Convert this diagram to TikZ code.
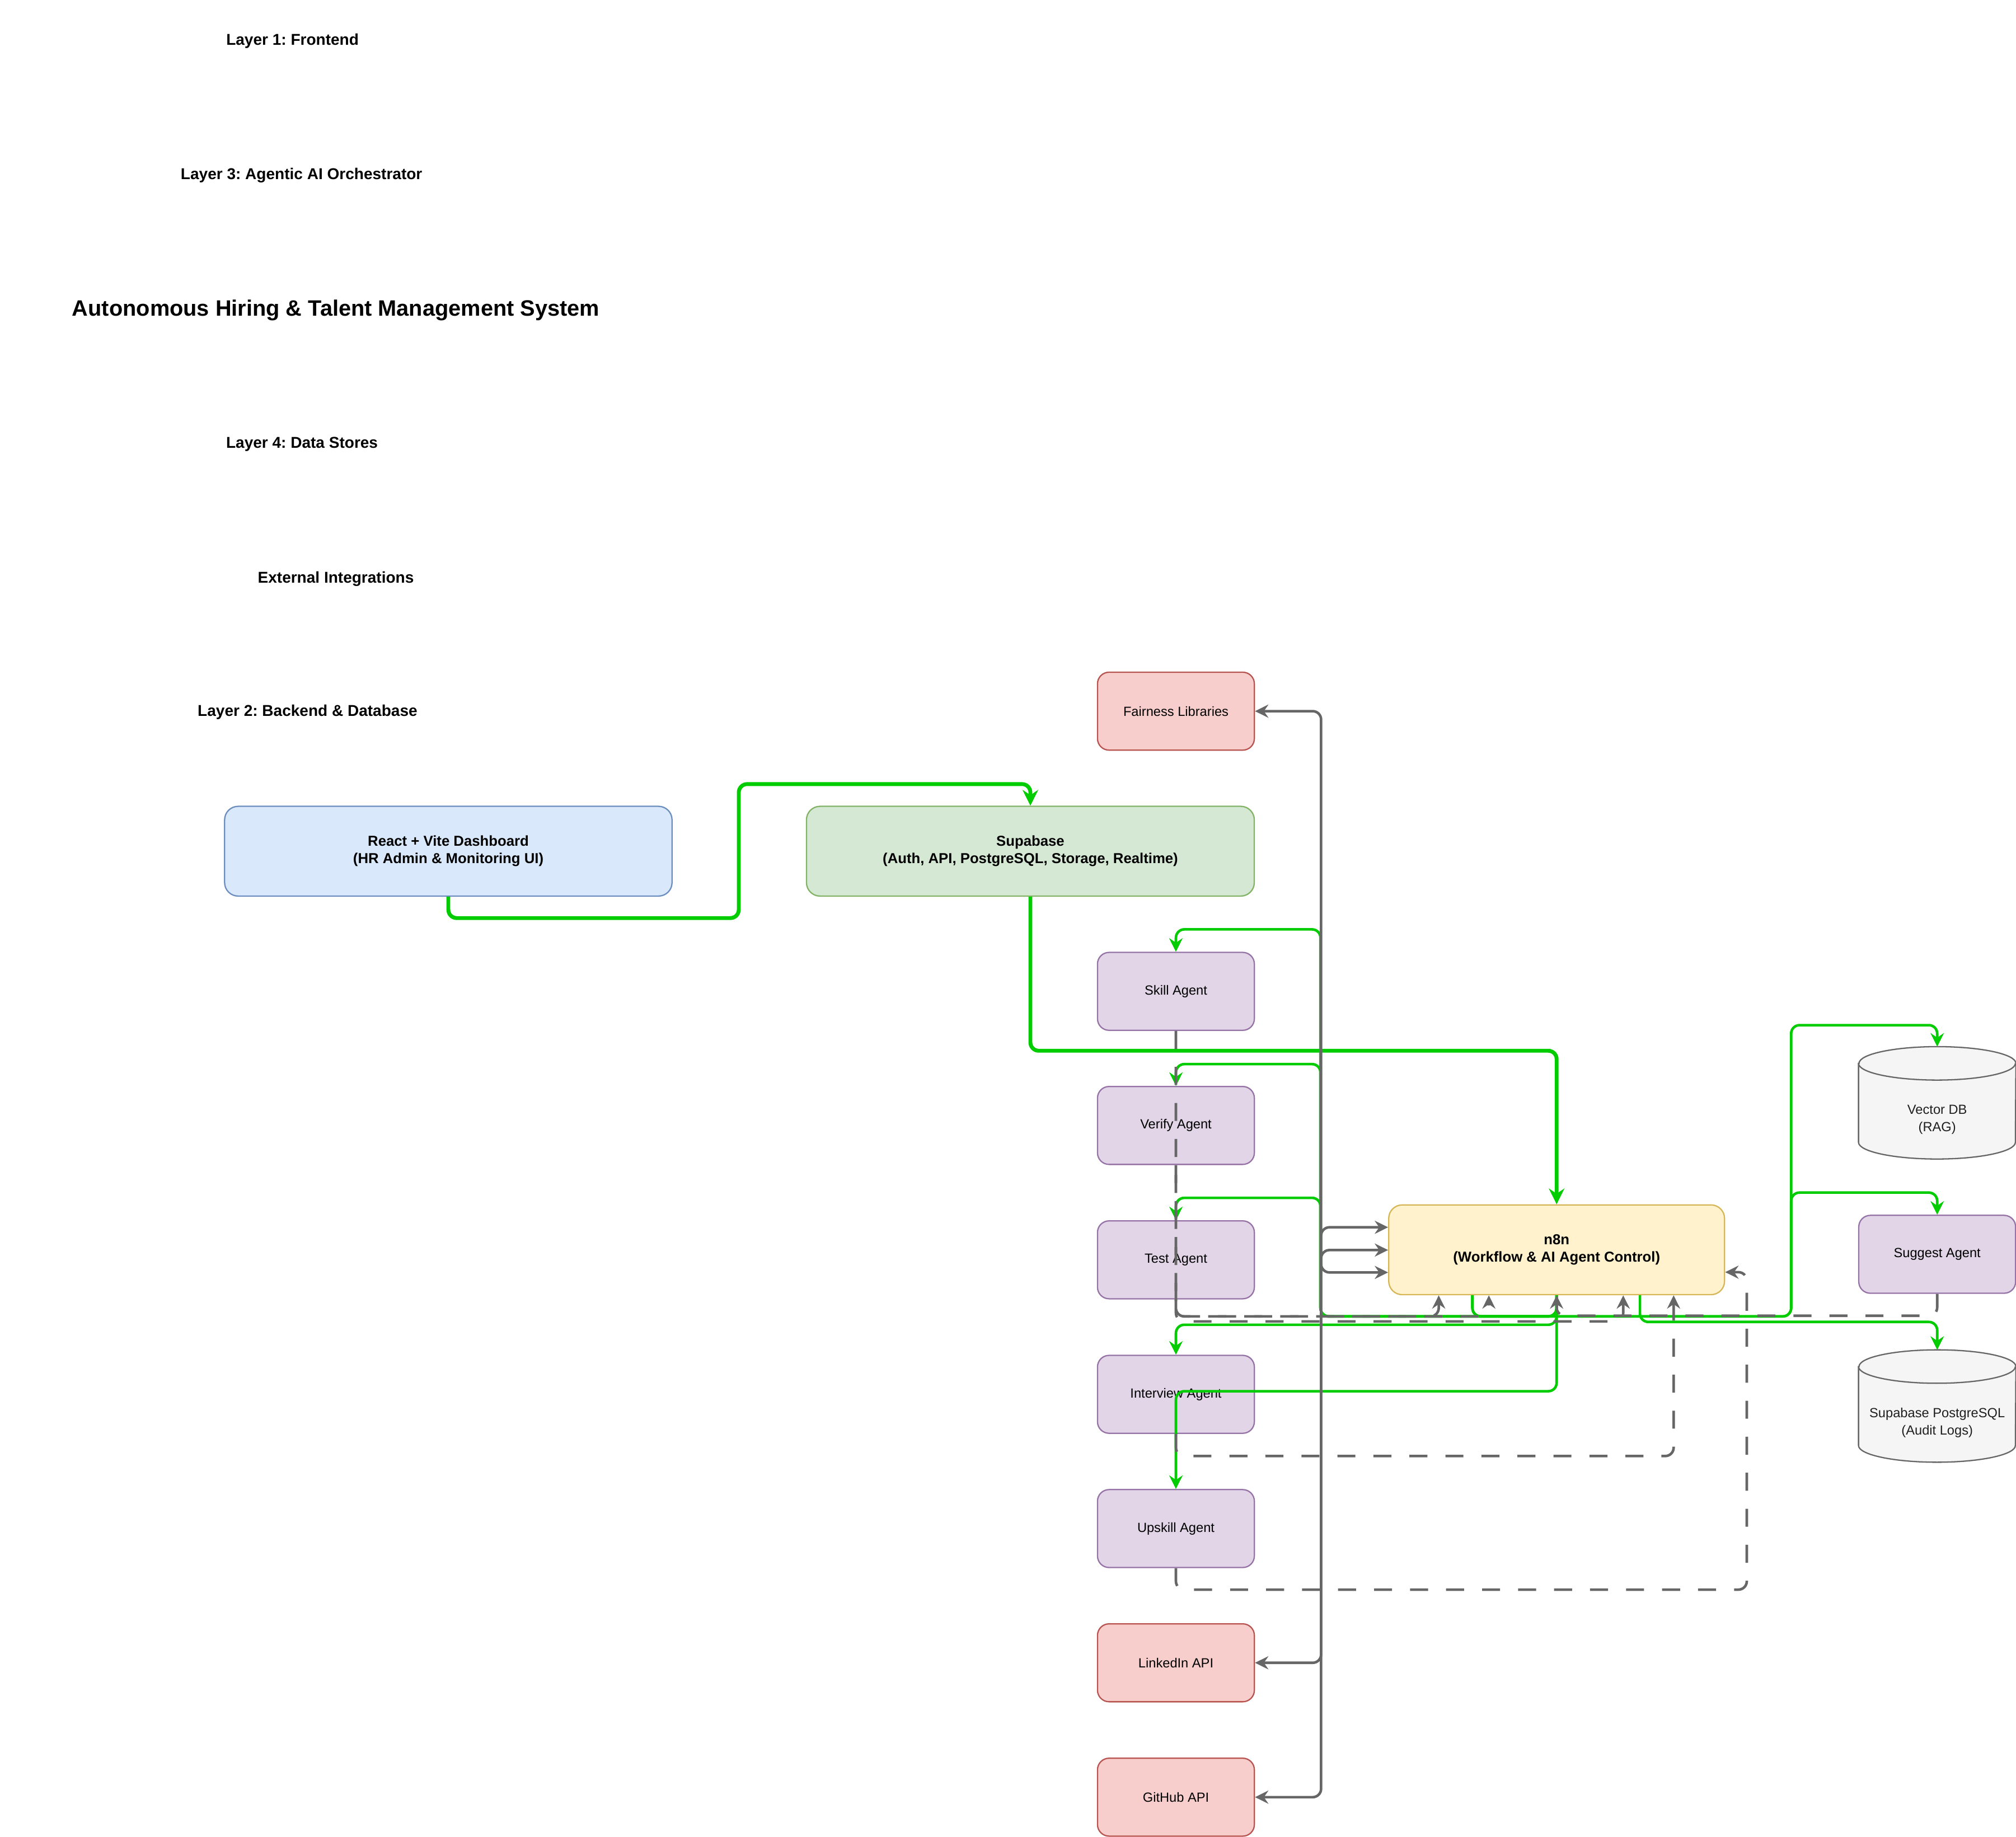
\documentclass[tikz,border=0pt]{standalone}
\usepackage{fontspec}
\setmainfont{Liberation Sans}
\usepackage{xcolor}
\usetikzlibrary{positioning,arrows.meta,backgrounds}
\frenchspacing

\definecolor{dashfill}{HTML}{DAE8FC}
\definecolor{dashline}{HTML}{6C8EBF}
\definecolor{supafill}{HTML}{D5E8D4}
\definecolor{supaline}{HTML}{82B366}
\definecolor{n8nfill}{HTML}{FFF2CC}
\definecolor{n8nline}{HTML}{D6B656}
\definecolor{agentfill}{HTML}{E1D5E7}
\definecolor{agentline}{HTML}{9673A6}
\definecolor{apifill}{HTML}{F8CECC}
\definecolor{apiline}{HTML}{B85450}
\definecolor{storefill}{HTML}{F5F5F5}
\definecolor{storeline}{HTML}{666666}
\definecolor{storetext}{HTML}{1F1F1F}
\definecolor{flowgreen}{HTML}{00CC00}
\definecolor{linkgray}{HTML}{666666}

\begin{document}
\begin{tikzpicture}[x=1pt, y=-1pt,
  box/.style={draw, line width=1pt, rounded corners=9pt, align=center, inner sep=0pt, minimum width=122pt, minimum height=60.6pt, font=\fontsize{10.3}{12.9}\selectfont},
  agentbox/.style={box, fill=agentfill, draw=agentline},
  apibox/.style={box, fill=apifill, draw=apiline},
  corebox/.style={box, rounded corners=10.5pt, minimum height=69.8pt, font=\fontsize{11.2}{13.5}\selectfont\bfseries},
  storebox/.style={align=center, inner sep=0pt, minimum width=122pt, minimum height=61pt, text=storetext, font=\fontsize{10.3}{13.4}\selectfont},
  storeshape/.style={draw=storeline, fill=storefill, line width=1pt},
  layerlbl/.style={font=\fontsize{12.2}{14.6}\selectfont\bfseries},
  flow/.style={draw=flowgreen, line width=2pt, rounded corners=6.5pt, -{Stealth[length=10.5pt, width=10.4pt, inset=3.5pt]}},
  bigflow/.style={flow, line width=3pt, -{Stealth[length=12.2pt, width=12pt, inset=4pt]}},
  link/.style={draw=linkgray, line width=2pt, rounded corners=6.5pt, {Stealth[length=10.4pt, width=10.2pt, inset=3.5pt]}-{Stealth[length=10.4pt, width=10.2pt, inset=3.5pt]}},
  reply/.style={link, -{Stealth[length=10.4pt, width=10.2pt, inset=3.5pt]}, dash pattern=on 14pt off 14pt}
]
\useasboundingbox (0,0) rectangle (1568,1428.7);

\node[layerlbl] (layerone) at (227.5,31.8) {Layer 1: Frontend};
\node[layerlbl] (layerthree) at (234.5,136.6) {Layer 3: Agentic AI Orchestrator};
\node[font=\fontsize{17.3}{20.8}\selectfont\bfseries] (title) at (261.2,241.4) {Autonomous Hiring \& Talent Management System};
\node[layerlbl] (layerfour) at (234.9,345.3) {Layer 4: Data Stores};
\node[layerlbl] (external) at (261.2,450.2) {External Integrations};
\node[layerlbl] (layertwo) at (239.2,554) {Layer 2: Backend \& Database};

\node[corebox, fill=dashfill, draw=dashline, minimum width=348pt] (dashboard) at (348.7,662) {React + Vite Dashboard\\(HR Admin \& Monitoring UI)};
\node[corebox, fill=supafill, draw=supaline, minimum width=348.3pt] (supabase) at (801.4,662) {Supabase\\(Auth, API, PostgreSQL, Storage, Realtime)};
\node[corebox, fill=n8nfill, draw=n8nline, minimum width=261.2pt] (n8n) at (1210.7,972) {n8n\\(Workflow \& AI Agent Control)};

\foreach \nm/\y/\lbl in {skill/771/Skill Agent, verify/875.3/Verify Agent, test/979.8/Test Agent, interview/1084.4/Interview Agent, upskill/1188.8/Upskill Agent}
  \node[agentbox] (\nm) at (914.6,\y) {\lbl};
\node[agentbox] (suggest) at (1506.7,975.5) {Suggest Agent};
\foreach \nm/\y/\lbl in {fairness/553.1/Fairness Libraries, linkedin/1293.2/LinkedIn API, github/1397.7/GitHub API}
  \node[apibox] (\nm) at (914.6,\y) {\lbl};

\node[storebox] (vectordb) at (1506.7,870.7) {Vector DB\\(RAG)};
\node[storebox] (auditdb) at (1506.7,1106.5) {Supabase PostgreSQL\\(Audit Logs)};
\begin{scope}[on background layer]
\foreach \db in {vectordb, auditdb} {
  \draw[storeshape] ([yshift=13pt]\db.north west) -- ([yshift=13pt]\db.south west)
    arc[start angle=180, end angle=360, x radius=61pt, y radius=13pt]
    -- ([yshift=13pt]\db.north east)
    arc[start angle=0, end angle=180, x radius=61pt, y radius=13pt] -- cycle;
  \draw[storeshape, fill=none] ([yshift=13pt]\db.north west)
    arc[start angle=180, end angle=360, x radius=61pt, y radius=13pt];
}
\end{scope}

\draw[bigflow] (dashboard.south) |- (574.6,714) -- (574.6,609.8) -| (supabase.north);
\draw[bigflow] (supabase.south) |- (1210.7,817.2) -- (n8n.north);

\foreach \ag/\lane in {skill/722.8, verify/827.6, test/931.6}
  \draw[flow] (n8n.south) |- (1027,1023.8) -- (1027,\lane) -| (\ag.north);
\draw[flow] (n8n.south) |- (914.6,1030.3) -- (interview.north);
\draw[flow] (n8n.south) |- (914.6,1082) -- (upskill.north);
\draw[flow] ([xshift=-65.5pt]n8n.south) |- (1393.1,1023.8) -- (1393.1,797.3) -| ([yshift=26pt]vectordb.north);
\draw[flow] ([xshift=-65.5pt]n8n.south) |- (1393.1,1023.8) -- (1393.1,927.5) -| (suggest.north);
\draw[flow] ([xshift=64.8pt]n8n.south) |- (1506.7,1028.1) -- ([yshift=26pt]auditdb.north);

\foreach \ex/\port in {fairness/989.6, linkedin/972.2, github/954.5}
  \draw[link] (\ex.east) -| (1027.5,\port) -- (n8n.west |- 0,\port);

\foreach \ag/\lane/\px in {skill/1023.8/1119, verify/1023.8/1158, test/1027.7/1262.5, interview/1132.4/1301.7}
  \draw[reply] (\ag.south) |- (\px,\lane) -- (\px,0 |- n8n.south);
\draw[reply] (suggest.south) |- (1210.7,1023.3) -- (n8n.south);
\draw[reply] (upskill.south) |- (1358.6,1236.3) -- (1358.6,989.4) -- (n8n.east |- 0,989.4);
\end{tikzpicture}
\end{document}
